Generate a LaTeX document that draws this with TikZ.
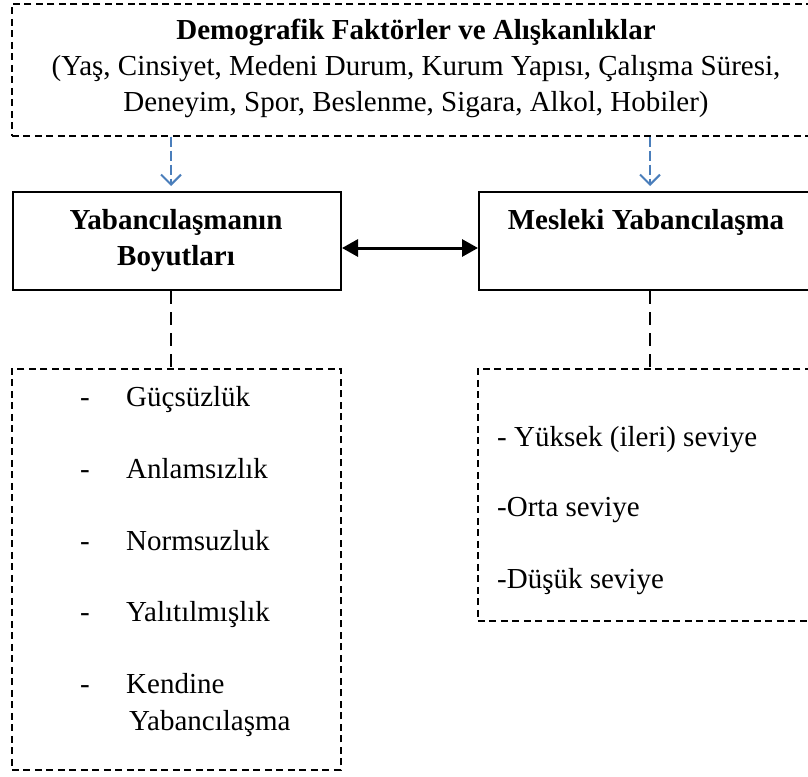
\documentclass[tikz,border=0pt]{standalone}
\usepackage{fontspec}
\setmainfont{Liberation Serif}
\usetikzlibrary{arrows.meta}
\definecolor{arrblue}{HTML}{4A7EBB}
\tikzset{
  dbox/.style={draw=black, line width=1.6pt, dash pattern=on 7pt off 4.5pt, inner sep=0pt, anchor=north west},
  sbox/.style={draw=black, line width=2pt, inner sep=0pt, anchor=north west},
  txt/.style={font=\fontsize{29}{36}\selectfont, inner sep=0pt, align=center},
  itm/.style={font=\fontsize{29}{36}\selectfont, inner sep=0pt, anchor=base west},
  bluearr/.style={draw=arrblue, line width=2pt, dash pattern=on 10pt off 4pt, -{Straight Barb[length=10pt, width=20pt, line width=2pt]}},
  dashconn/.style={draw=black, line width=2pt, dash pattern=on 13pt off 8pt},
  dblarr/.style={draw=black, line width=3pt, {Triangle[length=16pt,width=17pt]}-{Triangle[length=16pt,width=17pt]}}
}
\begin{document}
\begin{tikzpicture}[x=1pt,y=-1pt]
\useasboundingbox (0,0) rectangle (808,776);
\clip (0,0) rectangle (808,776);
% top box
\node[dbox, minimum width=812pt, minimum height=132pt] (top) at (11,3) {};
\node[txt] (toptext) at (416,68) {\textbf{Demografik Faktörler ve Alışkanlıklar}\\(Yaş, Cinsiyet, Medeni Durum, Kurum Yapısı, Çalışma Süresi,\\Deneyim, Spor, Beslenme, Sigara, Alkol, Hobiler)};
% middle boxes
\node[sbox, minimum width=328pt, minimum height=98pt] (lb) at (12,191) {};
\node[txt] (lbt) at (176,241) {\textbf{Yabancılaşmanın}\\\textbf{Boyutları}};
\node[sbox, minimum width=336pt, minimum height=98pt] (rb) at (478,191) {};
\node[txt] (rbt) at (646,222) {\textbf{Mesleki Yabancılaşma}};
% bottom boxes
\node[dbox, minimum width=329pt, minimum height=401pt] (lbb) at (11,368) {};
\node[dbox, minimum width=340pt, minimum height=252pt] (rbb) at (477,368) {};
% items left
\node[itm] (d1) at (80,406) {-};
\node[itm] (i1) at (126,406) {Güçsüzlük};
\node[itm] (d2) at (80,478) {-};
\node[itm] (i2) at (126,478) {Anlamsızlık};
\node[itm] (d3) at (80,550) {-};
\node[itm] (i3) at (126,550) {Normsuzluk};
\node[itm] (d4) at (80,621) {-};
\node[itm] (i4) at (126,621) {Yalıtılmışlık};
\node[itm] (d5) at (80,693) {-};
\node[itm] (i5) at (126,693) {Kendine};
\node[itm] (i6) at (129,730) {Yabancılaşma};
% items right
\node[itm] (r1) at (497,446) {- Yüksek (ileri) seviye};
\node[itm] (r2) at (497,516) {-Orta seviye};
\node[itm] (r3) at (497,588) {-Düşük seviye};
% connectors
\coordinate (a1) at (171,186);
\coordinate (a2) at (650,186);
\draw[bluearr] (top.south -| a1) -- (a1);
\draw[bluearr] (top.south -| a2) -- (a2);
\draw[dblarr] (lb.east |- 0,248) -- (rb.west |- 0,248);
\draw[dashconn] (lb.south -| a1) -- (lbb.north -| a1);
\draw[dashconn] (rb.south -| a2) -- (rbb.north -| a2);
\end{tikzpicture}
\end{document}
